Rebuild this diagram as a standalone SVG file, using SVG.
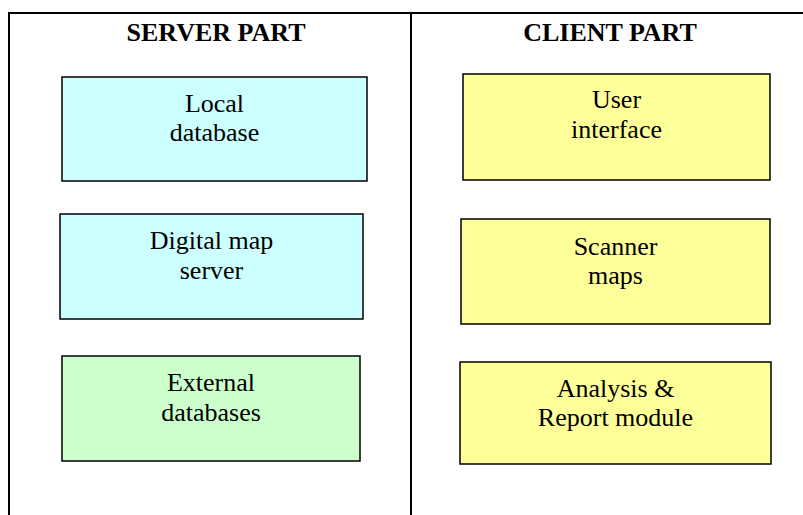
<svg xmlns="http://www.w3.org/2000/svg" width="803" height="515" viewBox="0 0 803 515">
<style>
.frame{stroke:#000;stroke-width:2;fill:none}
.box{stroke:#000;stroke-width:1.5}
.cyan{fill:#CCFFFF}
.green{fill:#CCFFCC}
.yellow{fill:#FFFF99}
.hdr{font-family:"Liberation Serif","Times New Roman",serif;font-weight:bold;font-size:26px;text-anchor:middle;fill:#000}
.lbl{font-family:"Liberation Serif","Times New Roman",serif;font-size:26px;text-anchor:middle;fill:#000}
</style>
<rect width="803" height="515" fill="#fff"/>
<g id="frame">
<path class="frame" d="M9,515 V13 H803 M411,13 V515"/>
</g>
<g id="headers">
<text class="hdr" x="216" y="41">SERVER PART</text>
<text class="hdr" x="610" y="41">CLIENT PART</text>
</g>
<g id="local-database">
<rect class="box cyan" x="62" y="77" width="305" height="104"/>
<text class="lbl" x="214.5" y="112">Local</text>
<text class="lbl" x="214.5" y="141">database</text>
</g>
<g id="digital-map-server">
<rect class="box cyan" x="60" y="214" width="303" height="105"/>
<text class="lbl" x="211.5" y="249">Digital map</text>
<text class="lbl" x="211.5" y="279">server</text>
</g>
<g id="external-databases">
<rect class="box green" x="62" y="356" width="298" height="105"/>
<text class="lbl" x="211" y="391">External</text>
<text class="lbl" x="211" y="421">databases</text>
</g>
<g id="user-interface">
<rect class="box yellow" x="463" y="74" width="307" height="106"/>
<text class="lbl" x="616.5" y="108">User</text>
<text class="lbl" x="616.5" y="138">interface</text>
</g>
<g id="scanner-maps">
<rect class="box yellow" x="461" y="219" width="309" height="105"/>
<text class="lbl" x="615.5" y="255">Scanner</text>
<text class="lbl" x="615.5" y="284">maps</text>
</g>
<g id="analysis-report">
<rect class="box yellow" x="460" y="362" width="311" height="102"/>
<text class="lbl" x="615.5" y="397">Analysis &amp;</text>
<text class="lbl" x="615.5" y="426">Report module</text>
</g>
</svg>
